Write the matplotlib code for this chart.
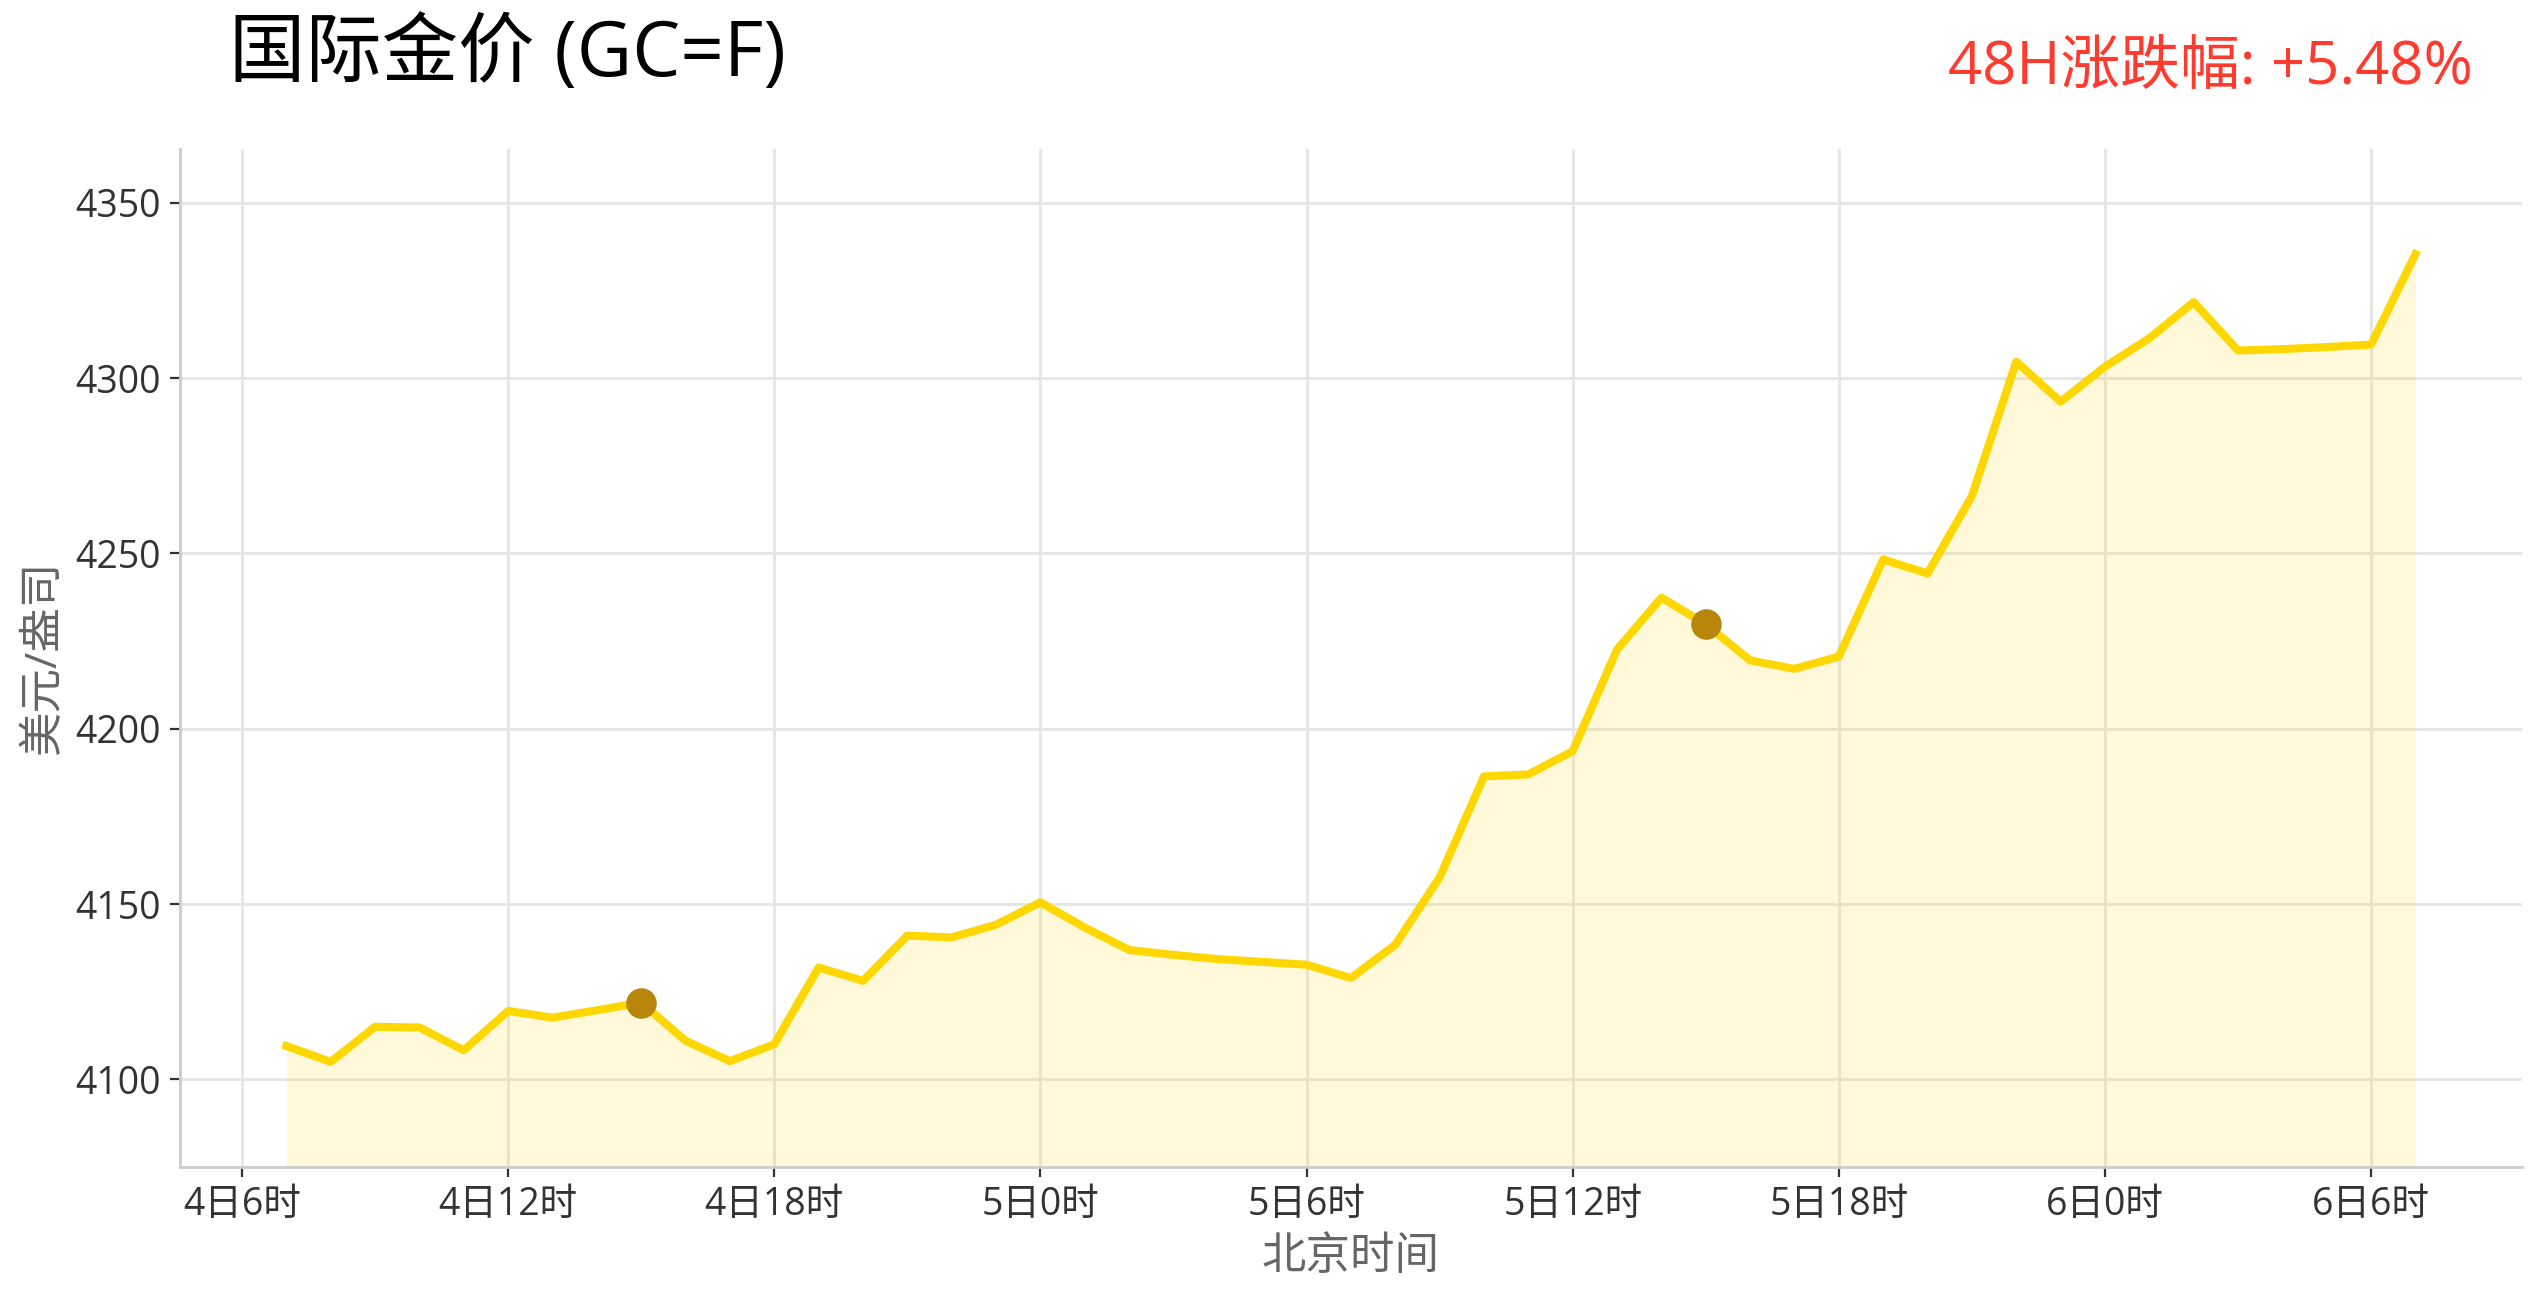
import matplotlib
matplotlib.use("Agg")
import matplotlib.pyplot as plt
import pandas as pd

plt.rcParams['font.family'] = ['Open Sans', 'Noto Sans CJK SC', 'DejaVu Sans']

# ---- data ----
start_time = '2025-12-04 07:00'
price = [4109.5, 4105.0, 4115.0, 4114.8, 4108.3, 4119.5, 4117.6, 4119.7, 4121.9,
         4111.0, 4105.2, 4110.0, 4131.9, 4128.1, 4141.0, 4140.5, 4144.1,
         4150.5, 4143.3, 4136.9, 4135.5, 4134.3, 4133.5, 4132.7, 4128.9, 4138.4,
         4157.6, 4186.4, 4187.0, 4193.6, 4222.6, 4237.4, 4229.8, 4219.5, 4217.1,
         4220.6, 4248.3, 4244.3, 4266.4, 4304.7, 4293.3,
         4303.3, 4311.4, 4321.7, 4307.9, 4308.3, 4308.9, 4309.6, 4335.4]
marker_idx = [8, 32]
tick_times = ['2025-12-04 06:00', '2025-12-04 12:00', '2025-12-04 18:00',
              '2025-12-05 00:00', '2025-12-05 06:00', '2025-12-05 12:00',
              '2025-12-05 18:00', '2025-12-06 00:00', '2025-12-06 06:00']
tick_labels = ['4日6时', '4日12时', '4日18时', '5日0时', '5日6时',
               '5日12时', '5日18时', '6日0时', '6日6时']
y_ticks = [4100, 4150, 4200, 4250, 4300, 4350]
title = '国际金价 (GC=F)'
change_text = '48H涨跌幅: +5.48%'

times = pd.date_range(start_time, periods=len(price), freq='h')

fig = plt.figure(figsize=(12.705, 6.51), dpi=200)
ax = fig.add_axes([0.0708, 0.1037, 0.9217, 0.7819])

ymin = min(price) - 30
ymax = max(price) + 30
ax.fill_between(times, price, ymin, color='#FFD700', alpha=0.15, linewidth=0, zorder=2)
ax.plot(times, price, color='#FFD700', linewidth=2.9, zorder=3)
ax.plot([times[i] for i in marker_idx], [price[i] for i in marker_idx], 'o',
        color='#B8860B', markersize=10, zorder=4)

ax.set_ylim(ymin, ymax)
ax.set_yticks(y_ticks)
ax.set_xticks(pd.to_datetime(tick_times))
ax.set_xticklabels(tick_labels)

ax.grid(True, color='#e5e5e5', linewidth=1.0, zorder=0)
ax.set_axisbelow(True)
for s in ['top', 'right']:
    ax.spines[s].set_visible(False)
for s in ['left', 'bottom']:
    ax.spines[s].set_color('#cccccc')
    ax.spines[s].set_linewidth(1.0)
ax.tick_params(axis='both', labelsize=13.5, colors='#333333', length=3.5, width=0.8)

ax.set_xlabel('北京时间', fontsize=16, color='#666666', labelpad=4)
ax.set_ylabel('美元/盎司', fontsize=16, color='#666666', labelpad=3)

fig.text(0.0903, 0.957, title, fontsize=27.5, color='black', ha='left', va='center')
fig.text(0.9732, 0.948, change_text, fontsize=21.5, color='#FF3B30', ha='right', va='center')

fig.savefig('out.png', dpi=200)
